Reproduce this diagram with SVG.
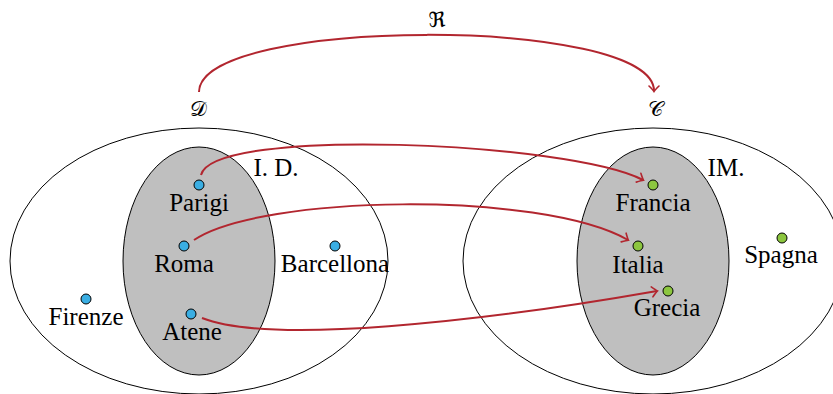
<svg xmlns="http://www.w3.org/2000/svg" width="833" height="394" viewBox="0 0 833 394">
  <style>
    .set { fill: #ffffff; stroke: #000000; stroke-width: 1; }
    .sub { fill: #bfbfbf; stroke: #000000; stroke-width: 1; }
    .dom { fill: #3aaee3; stroke: #000000; stroke-width: 1; }
    .cod { fill: #8cc63f; stroke: #000000; stroke-width: 1; }
    text { fill: #000000; text-anchor: middle; }
    .lbl { font-size: 25px; }
    .sym { font-size: 21px; }
    .map { fill: none; stroke: #b2262f; stroke-width: 2; marker-end: url(#tip); }
  </style>
  <defs>
    <marker id="tip" viewBox="-6 -6 8 12" markerWidth="8" markerHeight="12" refX="0" refY="0" orient="auto" markerUnits="userSpaceOnUse">
      <path d="M-5,-5 Q-1,-1 0.5,0 Q-1,1 -5,5" fill="none" stroke="#b2262f" stroke-width="1.6" stroke-linecap="round"/>
    </marker>
  </defs>

  <!-- domain set with its subset -->
  <g id="domain">
    <ellipse class="set" cx="199" cy="261" rx="189" ry="133"/>
    <ellipse class="sub" cx="199" cy="261" rx="76" ry="114"/>
    <text class="lbl" x="276" y="176" font-family="'Liberation Serif', 'DejaVu Serif', serif">I. D.</text>
    <text class="sym" x="198" y="116" font-family="'DejaVu Serif', 'DejaVu Sans', serif">𝒟</text>
  </g>

  <!-- codomain set with its image subset -->
  <g id="codomain">
    <ellipse class="set" cx="653" cy="261" rx="190" ry="133"/>
    <ellipse class="sub" cx="653" cy="261" rx="76" ry="114"/>
    <text class="lbl" x="726" y="176" font-family="'Liberation Serif', 'DejaVu Serif', serif">IM.</text>
    <text class="sym" x="655" y="116" font-family="'DejaVu Serif', 'DejaVu Sans', serif">𝒞</text>
  </g>

  <!-- elements of the domain -->
  <g id="parigi"><circle class="dom" cx="199" cy="185" r="5"/><text class="lbl" x="199" y="211" font-family="'Liberation Serif', 'DejaVu Serif', serif">Parigi</text></g>
  <g id="roma"><circle class="dom" cx="184" cy="246" r="5"/><text class="lbl" x="184" y="272" font-family="'Liberation Serif', 'DejaVu Serif', serif">Roma</text></g>
  <g id="barcellona"><circle class="dom" cx="335" cy="246" r="5"/><text class="lbl" x="335" y="272" font-family="'Liberation Serif', 'DejaVu Serif', serif">Barcellona</text></g>
  <g id="firenze"><circle class="dom" cx="86" cy="299" r="5"/><text class="lbl" x="86" y="325" font-family="'Liberation Serif', 'DejaVu Serif', serif">Firenze</text></g>
  <g id="atene"><circle class="dom" cx="191" cy="314" r="5"/><text class="lbl" x="192" y="340" font-family="'Liberation Serif', 'DejaVu Serif', serif">Atene</text></g>

  <!-- elements of the codomain -->
  <g id="francia"><circle class="cod" cx="653" cy="185" r="5"/><text class="lbl" x="653" y="211" font-family="'Liberation Serif', 'DejaVu Serif', serif">Francia</text></g>
  <g id="italia"><circle class="cod" cx="638" cy="246" r="5"/><text class="lbl" x="638" y="273" font-family="'Liberation Serif', 'DejaVu Serif', serif">Italia</text></g>
  <g id="grecia"><circle class="cod" cx="668" cy="291" r="5"/><text class="lbl" x="667" y="316" font-family="'Liberation Serif', 'DejaVu Serif', serif">Grecia</text></g>
  <g id="spagna"><circle class="cod" cx="782" cy="238" r="5"/><text class="lbl" x="781" y="263" font-family="'Liberation Serif', 'DejaVu Serif', serif">Spagna</text></g>

  <!-- relation label -->
  <g id="relation">
    <text class="sym" x="437" y="27" font-family="'DejaVu Serif', 'DejaVu Sans', serif">ℜ</text>
  </g>

  <!-- connectors -->
  <g id="connectors">
    <path class="map" d="M199,92 C199,16 654,16 654,91"/>
    <path class="map" d="M201,175 C213,126 570,142 643,180"/>
    <path class="map" d="M194,240 C260,195 540,190 628,240"/>
    <path class="map" d="M202,318 C270,345 480,322 657,291"/>
  </g>
</svg>
